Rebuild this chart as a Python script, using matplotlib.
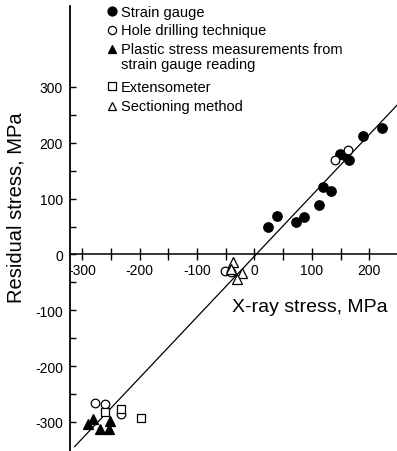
import matplotlib
matplotlib.use('Agg')
import numpy as np
import matplotlib.pyplot as plt
from matplotlib.ticker import FixedLocator

###########################
# Data
###########################

# Strain gauge (filled circles)
sg_x = [24, 40, 72, 86, 112, 120, 133, 149, 156, 165, 188, 222]
sg_y = [49, 68, 58, 67, 89, 120, 114, 180, 178, 170, 213, 226]

# Hole drilling technique (open circles)
hd_x = [140, 162, -51, -41, -278, -260, -233]
hd_y = [170, 187, -29, -31, -266, -268, -286]

# Plastic stress measurements from strain gauge reading (filled triangles)
ps_x = [-290, -281, -269, -253, -251]
ps_y = [-304, -294, -313, -313, -298]

# Extensometer (open squares)
ex_x = [-260, -233, -198]
ex_y = [-283, -277, -293]

# Sectioning method (open triangles)
sm_x = [-37, -41, -22, -31]
sm_y = [-14, -26, -33, -44]

# Regression line
line_slope = 1.09
line_intercept = -3
line_x_range = [-313, 248]

x_ticks = [-300, -200, -100, 0, 100, 200]
x_minor = [-250, -150, -50, 50, 150]
y_ticks = [-300, -200, -100, 0, 100, 200, 300]
y_minor = [-250, -150, -50, 50, 150, 250]

labels = ['Strain gauge',
          'Hole drilling technique',
          'Plastic stress measurements from\nstrain gauge reading',
          'Extensometer',
          'Sectioning method']

###########################
# Plot
###########################

plt.rcParams['font.family'] = ['Liberation Sans', 'DejaVu Sans']
plt.rcParams['axes.unicode_minus'] = False

W, H = 397, 452
fig = plt.figure(figsize=(W / 100, H / 100), dpi=100)
ax = fig.add_axes([70 / W, 0, 327 / W, 445 / H])

lx = np.array(line_x_range)
ax.plot(lx, line_slope * lx + line_intercept, color='black', lw=0.9, zorder=1)

# marker, filled, size
styles = [('o', True, 6.8), ('o', False, 6.2), ('^', True, 6.8), ('s', False, 5.4), ('^', False, 6.8)]
series = [(sg_x, sg_y), (hd_x, hd_y), (ps_x, ps_y), (ex_x, ex_y), (sm_x, sm_y)]

for (xs, ys), (mk, filled, ms) in zip(series, styles):
    ax.plot(xs, ys, mk, ms=ms, mfc='black' if filled else 'white', mec='black',
            mew=0.9, linestyle='none', zorder=3 if filled else 4)

ax.set_xlim(-321, 248)
ax.set_ylim(-352, 445)

# Axes style
ax.spines['top'].set_visible(False)
ax.spines['right'].set_visible(False)
ax.spines['bottom'].set_position(('data', 0))
ax.spines['left'].set_linewidth(1.3)
ax.spines['bottom'].set_linewidth(1.1)

ax.xaxis.set_major_locator(FixedLocator(x_ticks))
ax.xaxis.set_minor_locator(FixedLocator(x_minor))
ax.yaxis.set_major_locator(FixedLocator(y_ticks))
ax.yaxis.set_minor_locator(FixedLocator(y_minor))
ax.tick_params(axis='x', which='both', direction='inout', length=8, width=1, pad=2, labelsize=10)
ax.tick_params(axis='y', which='both', direction='in', length=4.5, width=1, pad=5, labelsize=10)

fig.text(16 / W, 1 - 208 / H, 'Residual stress, MPa', rotation=90,
         ha='center', va='center', fontsize=14.5)
fig.text(310 / W, 1 - 307 / H, 'X-ray stress, MPa', ha='center', va='center', fontsize=14)

# Key (handle sits on the first line of each entry)
key_rows = [12, 31, 50, 87, 107]
for label, row, (mk, filled, ms) in zip(labels, key_rows, styles):
    ax.plot([112 / W], [1 - row / H], mk, ms=ms * 0.95, mfc='black' if filled else 'white',
            mec='black', mew=0.9, transform=fig.transFigure, clip_on=False)
    fig.text(121 / W, 1 - (row - 6.5) / H, label, ha='left', va='top', fontsize=10.5,
             linespacing=1.05)

plt.savefig('out.png', dpi=100)
